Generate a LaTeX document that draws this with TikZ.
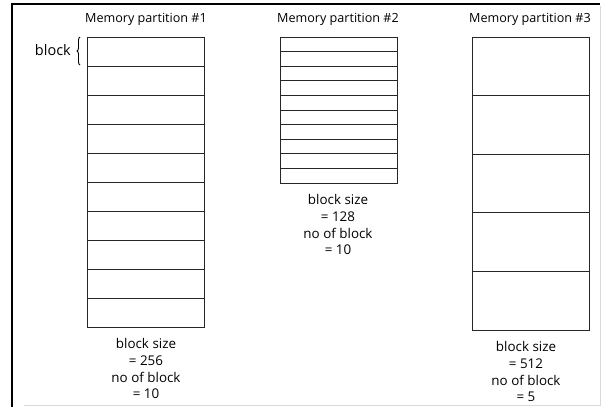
\documentclass[tikz,border=0pt]{standalone}
\usepackage{fontspec}
\setmainfont{Open Sans}
\usetikzlibrary{decorations.pathreplacing}
\tikzset{
  blk/.style={draw=black!85, line width=0.9pt},
  ttl/.style={font=\fontsize{12.6}{14}\selectfont, inner sep=0pt},
  info/.style={font=\fontsize{13.4}{16.6}\selectfont, align=center, inner sep=0pt, anchor=north},
  frameA/.style={draw=black, line width=1.4pt},
  frameB/.style={draw=black!15, line width=1pt}
}
\begin{document}
\begin{tikzpicture}[x=1pt,y=-1pt]
\useasboundingbox (0,0) rectangle (613,407);
% frame
\draw[frameA] (12,407) -- (12,4) -- (600,4);
\draw[frameB] (600,6) -- (600,405) -- (24,405);
% titles
\node[ttl] (t1) at (146,19) {Memory partition \#1};
\node[ttl] (t2) at (338,19) {Memory partition \#2};
\node[ttl] (t3) at (530,19) {Memory partition \#3};
% partition 1
\foreach \i in {0,...,9} {
  \draw[blk] (87,{37+29*\i}) rectangle (204,{37+29*(\i+1)});
}
% partition 2
\foreach \i in {0,...,9} {
  \draw[blk] (280,{37+14.6*\i}) rectangle (397,{37+14.6*(\i+1)});
}
% partition 3
\foreach \i in {0,...,4} {
  \draw[blk] (472,{37+58.6*\i}) rectangle (589,{37+58.6*(\i+1)});
}
% block label
\coordinate (bb) at (80,65);
\coordinate (bt) at (80,37);
\draw[line width=0.9pt, decorate, decoration={brace, amplitude=3pt, aspect=0.5}] (bb) -- (bt);
\node[font=\fontsize{14.5}{16}\selectfont, anchor=east, inner sep=0pt] (blabel) at (71,50) {block};
% info labels
\node[info] (i1) at (146,338.5) {block size\\= 256\\no of block\\= 10};
\node[info] (i2) at (338,194.5) {block size\\= 128\\no of block\\= 10};
\node[info] (i3) at (526,341.5) {block size\\= 512\\no of block\\= 5};
\end{tikzpicture}
\end{document}
